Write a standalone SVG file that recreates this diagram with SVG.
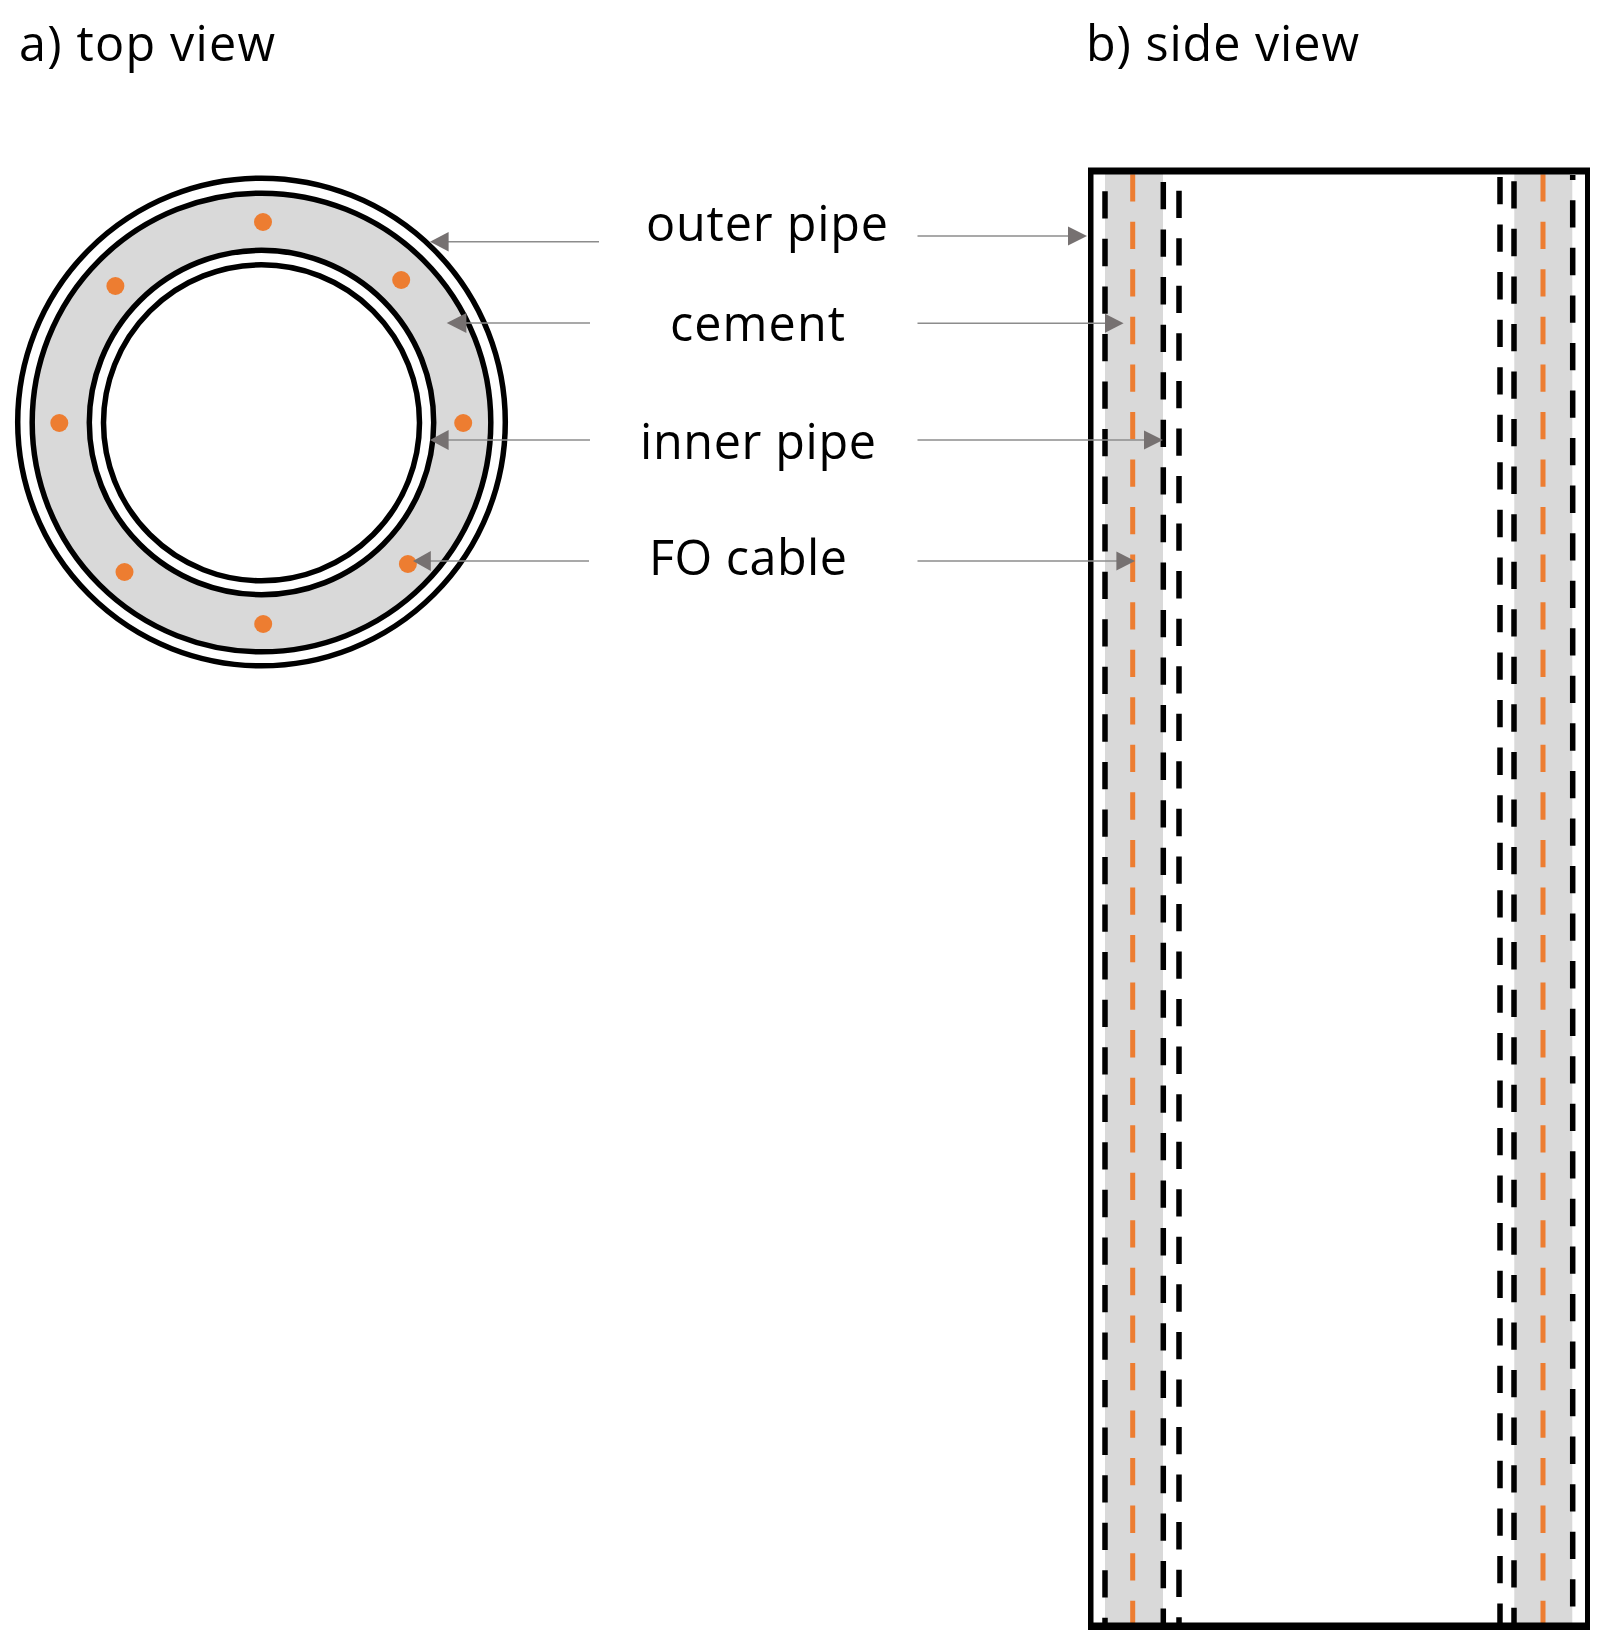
<svg xmlns="http://www.w3.org/2000/svg" width="1614" height="1646" viewBox="0 0 1614 1646">
<style>
text{font-family:"Open Sans","Noto Sans","DejaVu Sans",sans-serif;font-size:48.5px;fill:#000}
.ring{fill:none;stroke:#000;stroke-width:5.5}
.dot{fill:#ED7D31}
.dash{stroke:#000;stroke-width:5.5;stroke-dasharray:27.3 20.25;fill:none}
.fo{stroke:#ED7D31;stroke-width:5;stroke-dasharray:27.3 20.25;fill:none}
.gray{fill:#D9D9D9}
.ln{stroke:#8c8c8c;stroke-width:1.6;fill:none}
.hd{fill:#767171}
</style>
<rect width="1614" height="1646" fill="#fff"/>
<g id="title-a"><text x="19" y="61" textLength="256" lengthAdjust="spacing">a) top view</text></g>
<g id="title-b"><text x="1086" y="61" textLength="273" lengthAdjust="spacing">b) side view</text></g>
<g id="top-view">
<circle cx="261.500" cy="422" r="243.800" class="ring"/>
<circle cx="261.500" cy="422.500" r="229.300" class="ring" style="fill:#D9D9D9"/>
<circle cx="261.500" cy="422.500" r="172.200" class="ring" style="fill:#fff"/>
<circle cx="261.500" cy="422.800" r="158" class="ring" style="fill:#fff"/>
<g class="dot">
<circle cx="263" cy="222" r="9"/><circle cx="401.200" cy="280" r="9"/><circle cx="115.400" cy="286" r="9"/>
<circle cx="59.300" cy="423" r="9"/><circle cx="463.200" cy="423" r="9"/><circle cx="124.500" cy="572" r="9"/>
<circle cx="407.900" cy="564" r="9"/><circle cx="263.200" cy="624" r="9"/>
</g>
</g>
<g id="side-view">
<rect class="gray" x="1105" y="174" width="58" height="1449"/>
<rect class="gray" x="1514.300" y="174" width="58" height="1449"/>
<line class="dash" x1="1105" y1="191.300" x2="1105" y2="1623"/>
<line class="dash" x1="1163.300" y1="182" x2="1163.300" y2="1623"/>
<line class="dash" x1="1179" y1="190.700" x2="1179" y2="1623"/>
<line class="dash" x1="1500" y1="177" x2="1500" y2="1623"/>
<line class="dash" x1="1514" y1="181.300" x2="1514" y2="1623"/>
<line class="dash" x1="1572.700" y1="175" x2="1572.700" y2="1623" stroke-dashoffset="22.250"/>
<line class="fo" x1="1132.700" y1="174.200" x2="1132.700" y2="1623"/>
<line class="fo" x1="1543" y1="174.200" x2="1543" y2="1623"/>
<path d="M1088 167.500H1590V1630H1088ZM1093.500 174.500V1622.500H1585V174.500Z" fill="#000" fill-rule="evenodd"/>
</g>
<g id="label-outer-pipe"><text x="646" y="241" textLength="242" lengthAdjust="spacing">outer pipe</text></g>
<g id="label-cement"><text x="670" y="341" textLength="175" lengthAdjust="spacing">cement</text></g>
<g id="label-inner-pipe"><text x="640" y="459" textLength="236" lengthAdjust="spacing">inner pipe</text></g>
<g id="label-fo-cable"><text x="649" y="575" textLength="198" lengthAdjust="spacing">FO cable</text></g>
<g id="connectors">
<line class="ln" x1="599" y1="241.700" x2="448" y2="241.700"/><path class="hd" d="M430 241.700L448.600 232V251.500Z"/>
<line class="ln" x1="590" y1="323" x2="466" y2="323"/><path class="hd" d="M446.700 323L466.400 313V333Z"/>
<line class="ln" x1="590" y1="440" x2="448" y2="440"/><path class="hd" d="M430 440L448.600 430V450Z"/>
<line class="ln" x1="589" y1="561" x2="430" y2="561"/><path class="hd" d="M413 561L430.800 551V571Z"/>
<line class="ln" x1="917.500" y1="236" x2="1069" y2="236"/><path class="hd" d="M1087 236L1068 226.500V245.500Z"/>
<line class="ln" x1="917.500" y1="323.300" x2="1106" y2="323.300"/><path class="hd" d="M1123.600 323.300L1105 313.800V332.800Z"/>
<line class="ln" x1="917.500" y1="440" x2="1145" y2="440"/><path class="hd" d="M1163 440L1144 430.500V449.500Z"/>
<line class="ln" x1="917.500" y1="561" x2="1117" y2="561"/><path class="hd" d="M1135 561L1116.400 551.500V570.500Z"/>
</g>
</svg>
